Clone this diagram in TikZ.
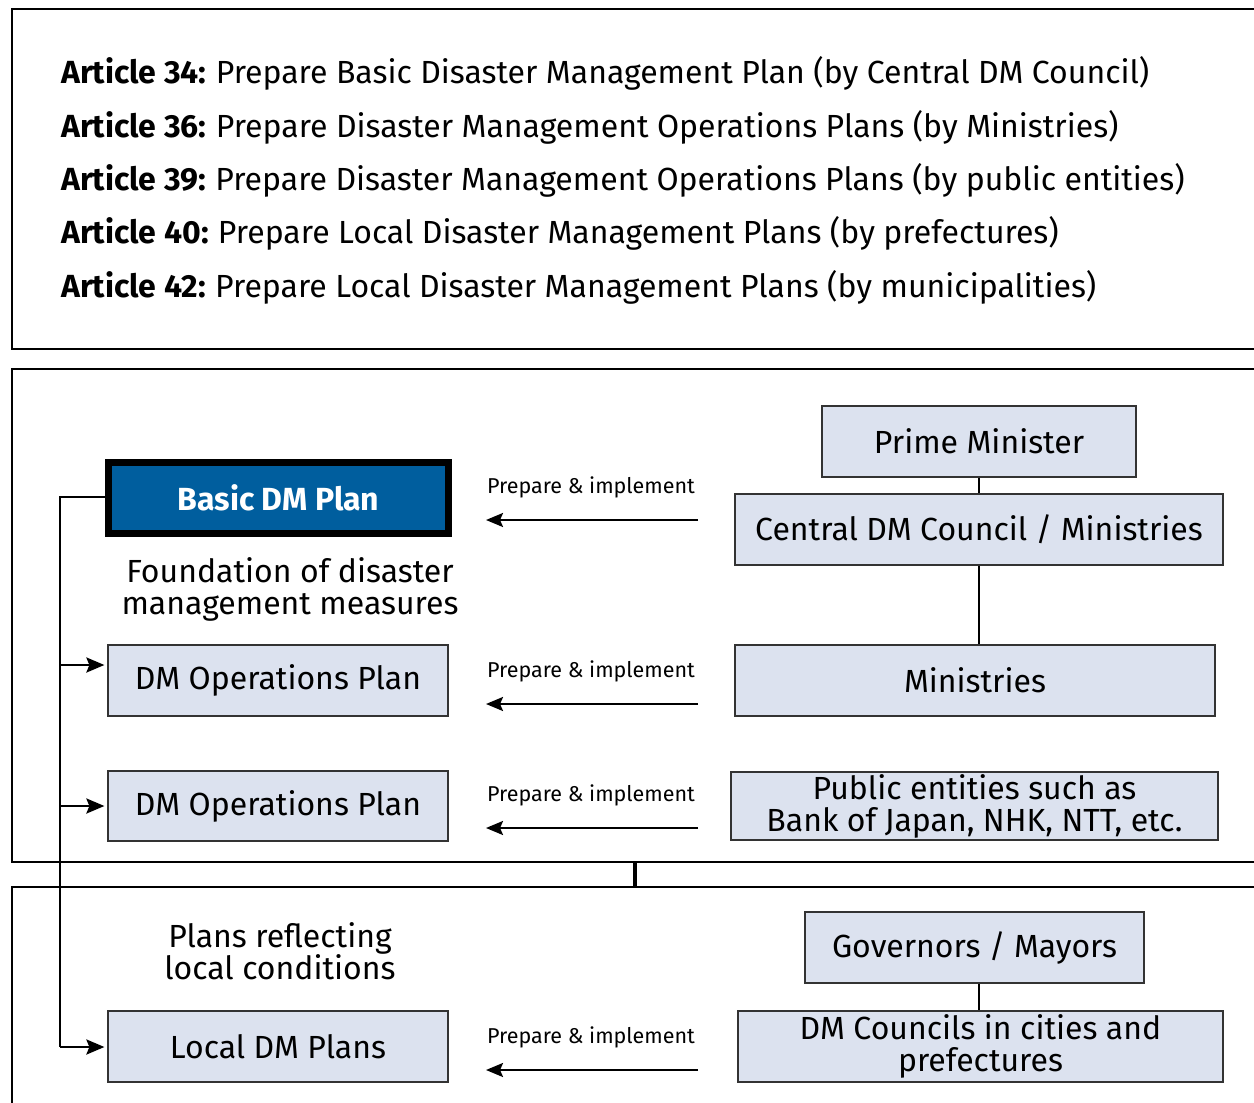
\documentclass[tikz,border=0pt]{standalone}
\usepackage{fontspec}
\setmainfont{Fira Sans}
\usetikzlibrary{arrows.meta}
\definecolor{boxfill}{HTML}{DCE2EF}
\definecolor{boxline}{HTML}{333333}
\definecolor{planblue}{HTML}{005E9E}
\tikzset{
  frame/.style={draw=black, line width=2.5pt},
  lightbox/.style={draw=boxline, line width=1.2pt, fill=boxfill, inner sep=0pt, align=center,
    font=\fontsize{32}{32}\selectfont},
  articletext/.style={anchor=west, inner sep=0pt, font=\fontsize{32}{34}\selectfont},
  note/.style={align=center, inner sep=0pt, font=\fontsize{32}{32}\selectfont},
  actlabel/.style={inner sep=0pt, font=\fontsize{21.5}{24}\selectfont},
  actarrow/.style={line width=2.4pt, -{Stealth[length=17pt,width=14pt,inset=3pt]}},
  feed/.style={line width=2.6pt, -{Stealth[length=18pt,width=15pt,inset=3pt]}},
  link/.style={line width=2.4pt}
}
\begin{document}
\begin{tikzpicture}[x=1pt, y=-1pt]
\useasboundingbox (0,0) rectangle (1254,1103);
\begin{scope}
\clip (0,0) rectangle (1254,1103);
% outer frames
\draw[frame] (12,9) rectangle (1270,349);
\draw[frame] (12,369) rectangle (1270,862);
\draw[frame] (12,887) rectangle (1270,1120);
\end{scope}
\coordinate (gapTop) at (635,862);
\coordinate (gapBot) at (635,887);
\draw[line width=4pt] (gapTop) -- (gapBot);

% legal basis
\node[articletext] (a34) at (61,73) {\textbf{Article 34:}\hspace{-2pt} Prepare Basic Disaster Management Plan (by Central DM Council)};
\node[articletext] (a36) at (61,127) {\textbf{Article 36:}\hspace{-2pt} Prepare Disaster Management Operations Plans (by Ministries)};
\node[articletext] (a39) at (61,180) {\textbf{Article 39:}\hspace{-2pt} Prepare Disaster Management Operations Plans (by public entities)};
\node[articletext] (a40) at (61,233) {\textbf{Article 40:}\hspace{-2pt} Prepare Local Disaster Management Plans (by prefectures)};
\node[articletext] (a42) at (61,287) {\textbf{Article 42:}\hspace{-2pt} Prepare Local Disaster Management Plans (by municipalities)};

% plans (left column)
\node[draw=black, line width=7pt, fill=planblue, text=white, inner sep=0pt,
  minimum width=340pt, minimum height=71pt, font=\bfseries\fontsize{32}{32}\selectfont]
  (basic) at (278.5,498) {Basic DM Plan};
\node[note] (found) at (290,589) {Foundation of disaster\\management measures};
\node[lightbox, minimum width=340pt, minimum height=71pt] (ops1) at (278,680.5) {DM Operations Plan};
\node[lightbox, minimum width=340pt, minimum height=70pt] (ops2) at (278,806) {DM Operations Plan};
\node[note] (localnote) at (280,951) {Plans reflecting\\local conditions};
\node[lightbox, minimum width=340pt, minimum height=71pt] (local) at (278,1046.5) {Local DM Plans};

% bodies (right column)
\node[lightbox, minimum width=314pt, minimum height=71pt] (pm) at (979,441.5) {Prime Minister};
\node[lightbox, minimum width=488pt, minimum height=71pt] (cdmc) at (979,529.5) {Central DM Council / Ministries};
\node[lightbox, minimum width=480pt, minimum height=71pt] (min) at (975,680.5) {Ministries};
\node[lightbox, minimum width=487pt, minimum height=68pt] (pub) at (974.5,806) {Public entities such as\\Bank of Japan, NHK, NTT, etc.};
\node[lightbox, minimum width=339pt, minimum height=71pt] (gov) at (974.5,947.5) {Governors / Mayors};
\node[lightbox, minimum width=485pt, minimum height=71pt] (dmc) at (980.5,1046.5) {DM Councils in cities and\\prefectures};

% hierarchy links
\draw[link] (pm.south -| 979,0) -- (cdmc.north -| 979,0);
\draw[link] (cdmc.south -| 979,0) -- (min.north -| 979,0);
\draw[link] (gov.south -| 979,0) -- (dmc.north -| 979,0);

% prepare & implement arrows
\coordinate (s1) at (698,520); \coordinate (e1) at (486,520);
\coordinate (s2) at (698,704); \coordinate (e2) at (486,704);
\coordinate (s3) at (698,828); \coordinate (e3) at (486,828);
\coordinate (s4) at (698,1070); \coordinate (e4) at (486,1070);
\draw[actarrow] (s1) -- (e1);
\draw[actarrow] (s2) -- (e2);
\draw[actarrow] (s3) -- (e3);
\draw[actarrow] (s4) -- (e4);
\node[actlabel] (l1) at (591,487) {Prepare \& implement};
\node[actlabel] (l2) at (591,671) {Prepare \& implement};
\node[actlabel] (l3) at (591,795) {Prepare \& implement};
\node[actlabel] (l4) at (591,1037) {Prepare \& implement};

% basic plan feeding the other plans
\coordinate (spine) at (60,497);
\draw[line width=2.6pt] (basic.west |- 0,497) -- (spine) -- (60,1047);
\draw[feed] (60,665) -- ([xshift=-3pt]ops1.west |- 0,665);
\draw[feed] (60,806) -- ([xshift=-3pt]ops2.west);
\draw[feed] (60,1047) -- ([xshift=-3pt]local.west |- 0,1047);
\end{tikzpicture}
\end{document}
